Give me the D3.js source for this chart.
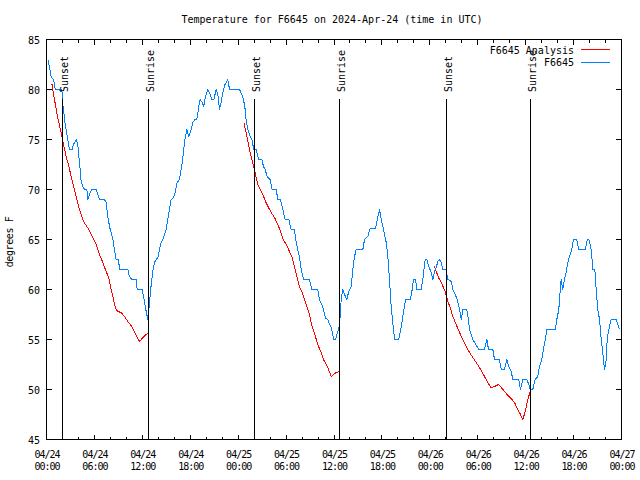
<!DOCTYPE html>
<html>
<head>
<meta charset="utf-8">
<script src="https://cdn.jsdelivr.net/npm/d3@7"></script>
<style>
body { margin: 0; background: #fff; }
text { font-family: "DejaVu Sans Mono", monospace; font-size: 10px; fill: #000; }
</style>
</head>
<body>
<div class="content"></div>
<script>
// hours after 2024-04-24 00:00 UTC, temps in F
var obsHours = [
 0.17, 0.38, 0.60, 0.90, 1.10, 1.60, 1.80, 1.92, 2.05, 2.17,
 2.30, 2.46, 2.67, 2.88, 3.21, 3.38, 3.72, 3.92, 4.05, 4.22,
 4.34, 4.55, 4.76, 5.05, 5.18, 5.38, 5.68, 6.22, 6.64, 7.26,
 7.47, 7.68, 7.89, 8.31, 8.51, 8.72, 9.02, 9.14, 10.18, 10.39,
 10.69, 11.23, 11.35, 11.98, 12.15, 12.36, 12.61, 12.69, 12.90, 13.11,
 13.31, 13.52, 13.73, 13.94, 14.15, 14.36, 14.57, 14.99, 15.19, 15.40,
 15.61, 15.90, 16.11, 16.36, 16.65, 16.86, 16.99, 17.15, 17.28, 17.40,
 17.57, 17.82, 18.12, 18.32, 18.61, 18.82, 19.07, 19.24, 19.49, 19.70,
 19.91, 20.20, 20.49, 20.70, 20.95, 21.25, 21.45, 21.66, 21.87, 22.08,
 22.29, 22.70, 22.92, 24.17, 24.46, 24.67, 24.88, 25.00, 25.21, 25.50,
 25.71, 25.96, 26.25, 26.55, 26.96, 27.17, 27.38, 27.63, 28.01, 28.26,
 28.76, 28.97, 29.30, 29.59, 29.88, 30.34, 30.63, 31.05, 31.27, 31.68,
 31.89, 32.18, 32.93, 33.22, 33.97, 34.18, 34.47, 34.69, 34.94, 35.22,
 35.31, 35.65, 35.98, 36.19, 36.48, 36.69, 36.81, 36.90, 37.10, 37.32,
 37.60, 37.85, 38.15, 38.35, 38.57, 38.78, 39.61, 39.82, 40.23, 40.53,
 41.20, 41.49, 41.70, 41.91, 42.20, 42.54, 42.74, 42.95, 43.16, 43.36,
 43.58, 44.11, 44.42, 44.62, 44.83, 44.95, 45.58, 45.79, 45.96, 46.21,
 46.37, 46.92, 47.12, 47.42, 47.62, 47.87, 48.17, 48.37, 48.59, 48.80,
 49.00, 49.21, 49.42, 49.62, 50.05, 50.25, 50.68, 50.88, 51.18, 51.43,
 51.72, 51.93, 52.05, 52.13, 52.63, 52.84, 52.97, 53.38, 54.13, 54.85,
 55.14, 55.35, 55.89, 56.10, 56.72, 56.94, 57.35, 57.64, 57.89, 58.19,
 58.39, 59.14, 59.35, 59.64, 60.14, 60.39, 60.57, 60.89, 61.19, 61.52,
 61.73, 62.02, 62.23, 62.45, 62.65, 63.70, 63.90, 64.15, 64.33, 64.45,
 64.65, 64.86, 65.07, 65.28, 65.49, 65.78, 65.99, 66.40, 66.65, 67.46,
 67.71, 67.91, 68.21, 68.41, 68.66, 68.83, 69.03, 69.25, 69.46, 69.66,
 69.87, 70.09, 70.21, 70.41, 70.71, 71.34, 71.54, 71.75
];
var obsTemps = [
 83, 82.2, 81.2, 81, 80, 80, 79.8, 80, 78.5, 77.7,
 76.7, 76, 75, 74, 74, 74.5, 75, 74.5, 73.3, 72,
 70.8, 70.3, 70, 70, 69, 69.5, 70, 70, 69, 69,
 68.7, 67.3, 66.3, 65, 64, 63, 63, 62, 62, 61.3,
 61, 61, 60, 60, 59.3, 58.3, 57.3, 57, 58.7, 60.5,
 61.8, 62.7, 63, 63.2, 64, 64.7, 65, 66, 67, 68,
 69, 69.2, 69.7, 70.7, 71, 72, 72.7, 73.7, 74.7, 75.3,
 76, 75.3, 76, 76.7, 77, 77, 78.3, 79, 78.7, 78.3,
 79.3, 80, 79.5, 79, 79, 80, 79.5, 78, 78.7, 79.7,
 80.4, 81, 80, 80, 79.5, 79, 78, 76.9, 76, 75.3,
 75, 74, 74, 73, 73, 72.3, 72, 71.3, 71, 70,
 70, 69, 69, 68, 67, 67, 66, 66, 64.7, 63.2,
 62, 61, 61, 60, 60, 59, 58.5, 58, 57.1, 57,
 56.8, 56.2, 55, 55, 55.8, 56.5, 57.7, 59, 60, 59.5,
 59, 59.8, 60.3, 62, 63.3, 64, 64, 65, 65.3, 66.1,
 66.1, 67.3, 68, 67, 66, 64.7, 63.3, 61, 58.3, 56.7,
 55, 55, 56.3, 57.3, 58.3, 59, 59, 60, 61, 61,
 60, 60, 61, 63, 63, 62.3, 61.7, 61, 61.8, 62.2,
 62.8, 63, 62.7, 62, 62, 61, 60.8, 60, 59.5, 59,
 58, 57, 57.5, 58, 58, 57, 56, 55, 54, 54,
 55, 54, 54, 53, 53, 52, 52, 53, 52.3, 51.8,
 51, 51, 50, 51, 51, 50.5, 50, 50, 51, 51.3,
 52.3, 53, 54, 55, 56, 56, 57, 58, 60, 61,
 60, 61, 61.7, 62.7, 63.3, 64, 65, 65, 64, 64,
 65, 65, 64, 62, 62, 60, 58, 57, 55, 53.7,
 52, 53, 55, 56, 57, 57, 56.5, 56
];
// analysis run, null = gap between runs
var anaHours = [
 0.67, 1.00, 1.29, 1.54, 1.84, 2.13, 2.46, 2.80, 3.09, 3.38,
 3.72, 4.01, 4.34, 4.63, 5.05, 5.38, 5.80, 6.22, 6.64, 7.05,
 7.47, 7.80, 8.10, 8.39, 8.64, 8.93, 9.35, 9.77, 10.18, 10.60,
 10.89, 11.23, 11.65, 12.06, 12.48, 12.69, null,
 24.71, 25.00, 25.21, 25.50, 25.71, 26.05, 26.25, 26.46, 26.76, 27.09,
 27.42, 27.80, 28.13, 28.55, 28.97, 29.30, 29.59, 30.01, 30.43, 30.76,
 31.05, 31.35, 31.68, 32.02, 32.31, 32.60, 32.93, 33.22, 33.56, 33.97,
 34.39, 34.69, 35.22, 35.65, 36.06, 36.61, null,
 48.58, 48.80, 49.09, 49.42, 49.71, 49.96, 50.25, 50.55, 50.88, 51.30,
 51.72, 52.13, 52.55, 52.97, 53.38, 53.80, 54.22, 54.63, 55.06, 55.47,
 55.68, 56.10, 56.60, 56.94, 57.35, 57.77, 58.19, 58.60, 59.02, 59.35,
 59.64, 59.94, 60.27, 60.57
];
var anaTemps = [
 80.6, 79, 77.7, 76.7, 75.7, 74.5, 73.3, 72.3, 71.3, 70.3,
 69.3, 68.3, 67.5, 66.8, 66.3, 65.9, 65.2, 64.5, 63.5, 62.7,
 61.8, 61.2, 60, 59, 58.1, 57.8, 57.7, 57.3, 56.8, 56.4,
 56, 55.4, 54.8, 55.2, 55.5, 55.6, null,
 76.7, 75.7, 74.8, 73.7, 73, 72, 71.2, 70.5, 70, 69.5,
 68.8, 68.2, 67.7, 67.2, 66.5, 65.8, 65.1, 64.5, 63.8, 63.2,
 62.3, 61.3, 60.3, 59.7, 59, 58.3, 57.5, 56.4, 55.6, 54.5,
 53.7, 53, 52.2, 51.3, 51.6, 51.8, null,
 62.3, 61.8, 61.2, 60.7, 60.2, 59.7, 58.8, 58.2, 57.3, 56.5,
 55.7, 55, 54.3, 53.7, 53.2, 52.7, 52.2, 51.6, 51, 50.4,
 50.2, 50.3, 50.5, 50.2, 49.8, 49.4, 49.1, 48.7, 48, 47.5,
 47, 47.8, 49, 49.8
];
var eventNames = ["Sunset", "Sunrise", "Sunset", "Sunrise", "Sunset", "Sunrise"];
var eventHours = [2.0, 12.77, 26.05, 36.69, 50.09, 60.61];
var yTicks = [45, 50, 55, 60, 65, 70, 75, 80, 85];
var seriesNames = ["F6645 Analysis", "F6645"];
var seriesColors = ["#ff0000", "#0080ff"];

var width = 640, height = 480;
var t0 = Date.UTC(2024, 3, 24);
function hr(h) { return new Date(t0 + h * 3600000); }

var svg = d3.select(".content").append("svg").attr("width", width).attr("height", height);
var x = d3.scaleUtc().domain([hr(0), hr(72)]).range([46.5, 621.5]);
var y = d3.scaleLinear().domain([45, 85]).range([439.5, 39.5]);

// frame
svg.append("rect").attr("x", 46.5).attr("y", 39.5).attr("width", 575).attr("height", 400)
	.attr("fill", "none").attr("stroke", "black").attr("shape-rendering", "crispEdges");

// x ticks, inward, bottom + top
var major = d3.utcHour.every(6).range(hr(0), hr(72.01));
var minor = d3.utcHour.every(2).range(hr(0), hr(72.01));
[[439.5, -1], [39.5, 1]].forEach(function(p){
	svg.append("g").selectAll("line").data(minor).enter().append("line")
		.attr("x1", function(d){ return x(d); }).attr("x2", function(d){ return x(d); })
		.attr("y1", p[0]).attr("y2", function(d){ return p[0] + p[1] * (d.getUTCHours() % 6 == 0 ? 5 : 3); })
		.attr("stroke", "black").attr("shape-rendering", "crispEdges");
});
var fmtD = d3.utcFormat("%m/%d"), fmtT = d3.utcFormat("%H:%M");
var xl = svg.append("g").selectAll("text").data(major).enter().append("text")
	.attr("text-anchor", "middle").style("letter-spacing", "-1px");
xl.append("tspan").attr("x", function(d){ return x(d) + 0.5; }).attr("y", 458).text(fmtD);
xl.append("tspan").attr("x", function(d){ return x(d) + 0.5; }).attr("y", 470).text(fmtT);

// y ticks both sides
svg.append("g").selectAll("line").data(yTicks).enter().append("line")
	.attr("x1", 46.5).attr("x2", 51.5).attr("y1", function(d){ return y(d); }).attr("y2", function(d){ return y(d); })
	.attr("stroke", "black").attr("shape-rendering", "crispEdges");
svg.append("g").selectAll("line").data(yTicks).enter().append("line")
	.attr("x1", 621.5).attr("x2", 615.5).attr("y1", function(d){ return y(d); }).attr("y2", function(d){ return y(d); })
	.attr("stroke", "black").attr("shape-rendering", "crispEdges");
svg.append("g").selectAll("text").data(yTicks).enter().append("text")
	.attr("x", 40).attr("y", function(d){ return y(d) + 4; }).attr("text-anchor", "end").text(function(d){ return d; });

svg.append("text").attr("transform", "translate(13,242) rotate(-90)").attr("text-anchor", "middle")
	.style("letter-spacing", "-0.4px").text("degrees F");
svg.append("text").attr("x", 332).attr("y", 23).attr("text-anchor", "middle")
	.text("Temperature for F6645 on 2024-Apr-24 (time in UTC)");

// data
var ana = anaHours.map(function(h, i){ return {h: h, t: anaTemps[i]}; });
var obs = obsHours.map(function(h, i){ return {h: h, t: obsTemps[i]}; });
var line = d3.line().defined(function(d){ return d.h != null; })
	.x(function(d){ return x(hr(d.h)); }).y(function(d){ return y(d.t); });
svg.append("path").datum(ana).attr("d", line).attr("fill", "none")
	.attr("stroke", seriesColors[0]).attr("shape-rendering", "crispEdges");
svg.append("path").datum(obs).attr("d", line).attr("fill", "none")
	.attr("stroke", seriesColors[1]).attr("shape-rendering", "crispEdges");

// sunrise / sunset markers
svg.append("g").selectAll("line").data(eventHours).enter().append("line")
	.attr("x1", function(d){ return x(hr(d)); }).attr("x2", function(d){ return x(hr(d)); })
	.attr("y1", 99).attr("y2", 439.5).attr("stroke", "black").attr("shape-rendering", "crispEdges");
svg.append("g").selectAll("text").data(eventHours).enter().append("text")
	.attr("transform", function(d){ return "translate(" + (x(hr(d)) + 5.5) + ",92) rotate(-90)"; })
	.text(function(d, i){ return eventNames[i]; });

// legend
seriesNames.forEach(function(n, i){
	svg.append("text").attr("x", 574).attr("y", 54 + i * 12).attr("text-anchor", "end").text(n);
	svg.append("line").attr("x1", 581).attr("x2", 610).attr("y1", 49.5 + i * 13).attr("y2", 49.5 + i * 13)
		.attr("stroke", seriesColors[i]).attr("shape-rendering", "crispEdges");
});
</script>
</body>
</html>
